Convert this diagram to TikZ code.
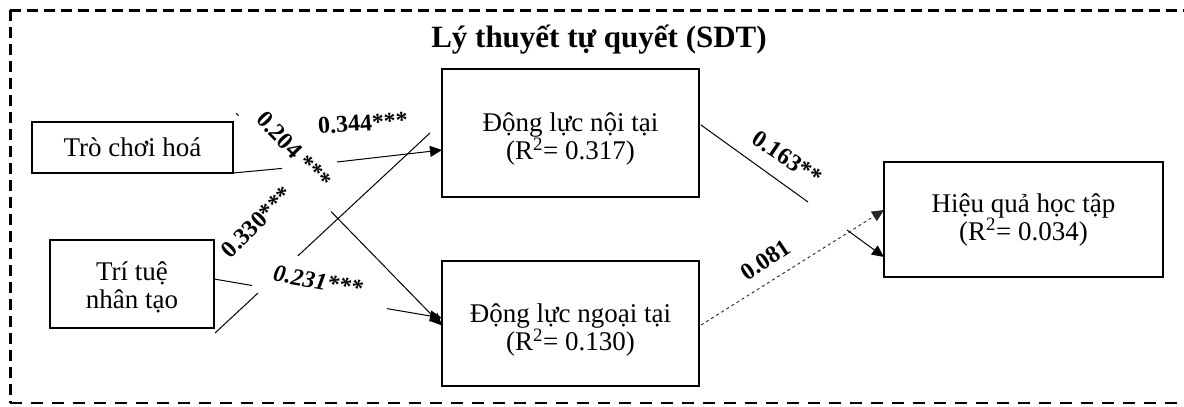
\documentclass[tikz,border=0pt]{standalone}
\usepackage{fontspec}
\setmainfont{Liberation Serif}
\usetikzlibrary{arrows.meta,calc}
\newcommand{\uplift}[1]{\rule{0pt}{#1}}
\begin{document}
\begin{tikzpicture}[x=1pt,y=-1pt,
  box/.style={draw,line width=2pt,inner sep=0pt,outer sep=0pt,align=center,font=\fontsize{27}{28}\selectfont},
  conn/.style={line width=1pt},
  arr/.style={conn,-{Triangle[length=12pt,width=11pt]}},
  dconn/.style={line width=0.9pt,black!85,dash pattern=on 3pt off 3pt,-{Triangle[length=12pt,width=11pt]}},
  lbl/.style={font=\fontsize{24}{24}\selectfont\bfseries,inner sep=0pt},
  framethick/.style={line width=3pt,dash pattern=on 11pt off 6pt},
  framethin/.style={line width=1.3pt,dash pattern=on 12pt off 9pt}]
\useasboundingbox (0,0) rectangle (1184,407);
% frame
\draw[framethick] (10,10) -- (1190,10);
\draw[framethick] (10,10) -- (10,403);
\draw[framethin] (10,403) -- (1190,403);
% title
\node[font=\fontsize{31}{31}\selectfont\bfseries,anchor=base] (title) at (599,47) {Lý thuyết tự quyết (SDT)};
% boxes
\node[box,minimum width=201pt,minimum height=51pt] (tch) at (132.5,147.5) {Trò chơi hoá};
\node[box,minimum width=164pt,minimum height=88pt] (ttnt) at (132,284) {\uplift{26pt}Trí tuệ\\nhân tạo};
\node[box,minimum width=257pt,minimum height=128pt] (dlnt) at (570.5,133) {\uplift{31pt}Động lực nội tại\\(R\textsuperscript{2}= 0.317)};
\node[box,minimum width=257pt,minimum height=125pt] (dlngt) at (570.5,323.5) {\uplift{32pt}Động lực ngoại tại\\(R\textsuperscript{2}= 0.130)};
\node[box,minimum width=279pt,minimum height=115pt] (hq) at (1023.5,219.5) {Hiệu quả học tập\\(R\textsuperscript{2}= 0.034)};
% connector points
\coordinate (c1a) at (282,168.4);
\coordinate (c1b) at (337,162);
\coordinate (c2s) at (236,113);
\coordinate (c2a) at (238.5,115.6);
\coordinate (c2b) at (331,211.5);
\coordinate (c3s) at (215,333);
\coordinate (c3a) at (258,293);
\coordinate (c3b) at (298,255.8);
\coordinate (c3e) at (430,133);
\coordinate (c4a) at (252,285.5);
\coordinate (c4b) at (387,308.6);
\coordinate (c5a) at (808,202);
\coordinate (c5b) at (847,230);
% connectors
\draw[arr] (tch.south east) -- (c1a) (c1b) -- ($(dlnt.west)+(0,17)$);
\draw[arr] (c2s) -- (c2a) (c2b) -- ($(dlngt.west)+(0,2)$);
\draw[conn] (c3s) -- (c3a) (c3b) -- (c3e);
\draw[arr] ($(ttnt.east)+(0,-5)$) -- (c4a) (c4b) -- ($(dlngt.west)+(0,-5.5)$);
\draw[arr] ($(dlnt.east)+(2,-8)$) -- (c5a) (c5b) -- ($(hq.west)+(0,37.5)$);
\draw[dconn] ($(dlngt.east)+(2,1.5)$) -- ($(hq.west)+(0,-9.5)$);
% labels
\node[lbl,rotate=4] (l1) at (363,123) {0.344***};
\node[lbl,rotate=-46] (l2) at (294,150) {0.204 ***};
\node[lbl,rotate=45] (l3) at (257,222) {0.330***};
\node[lbl,rotate=-10,font=\fontsize{24}{24}\selectfont\bfseries\itshape] (l4) at (318,281) {0.231***};
\node[lbl,rotate=-34] (l5) at (787,158) {0.163**};
\node[lbl,rotate=34] (l6) at (766,260) {0.081};
\end{tikzpicture}
\end{document}
